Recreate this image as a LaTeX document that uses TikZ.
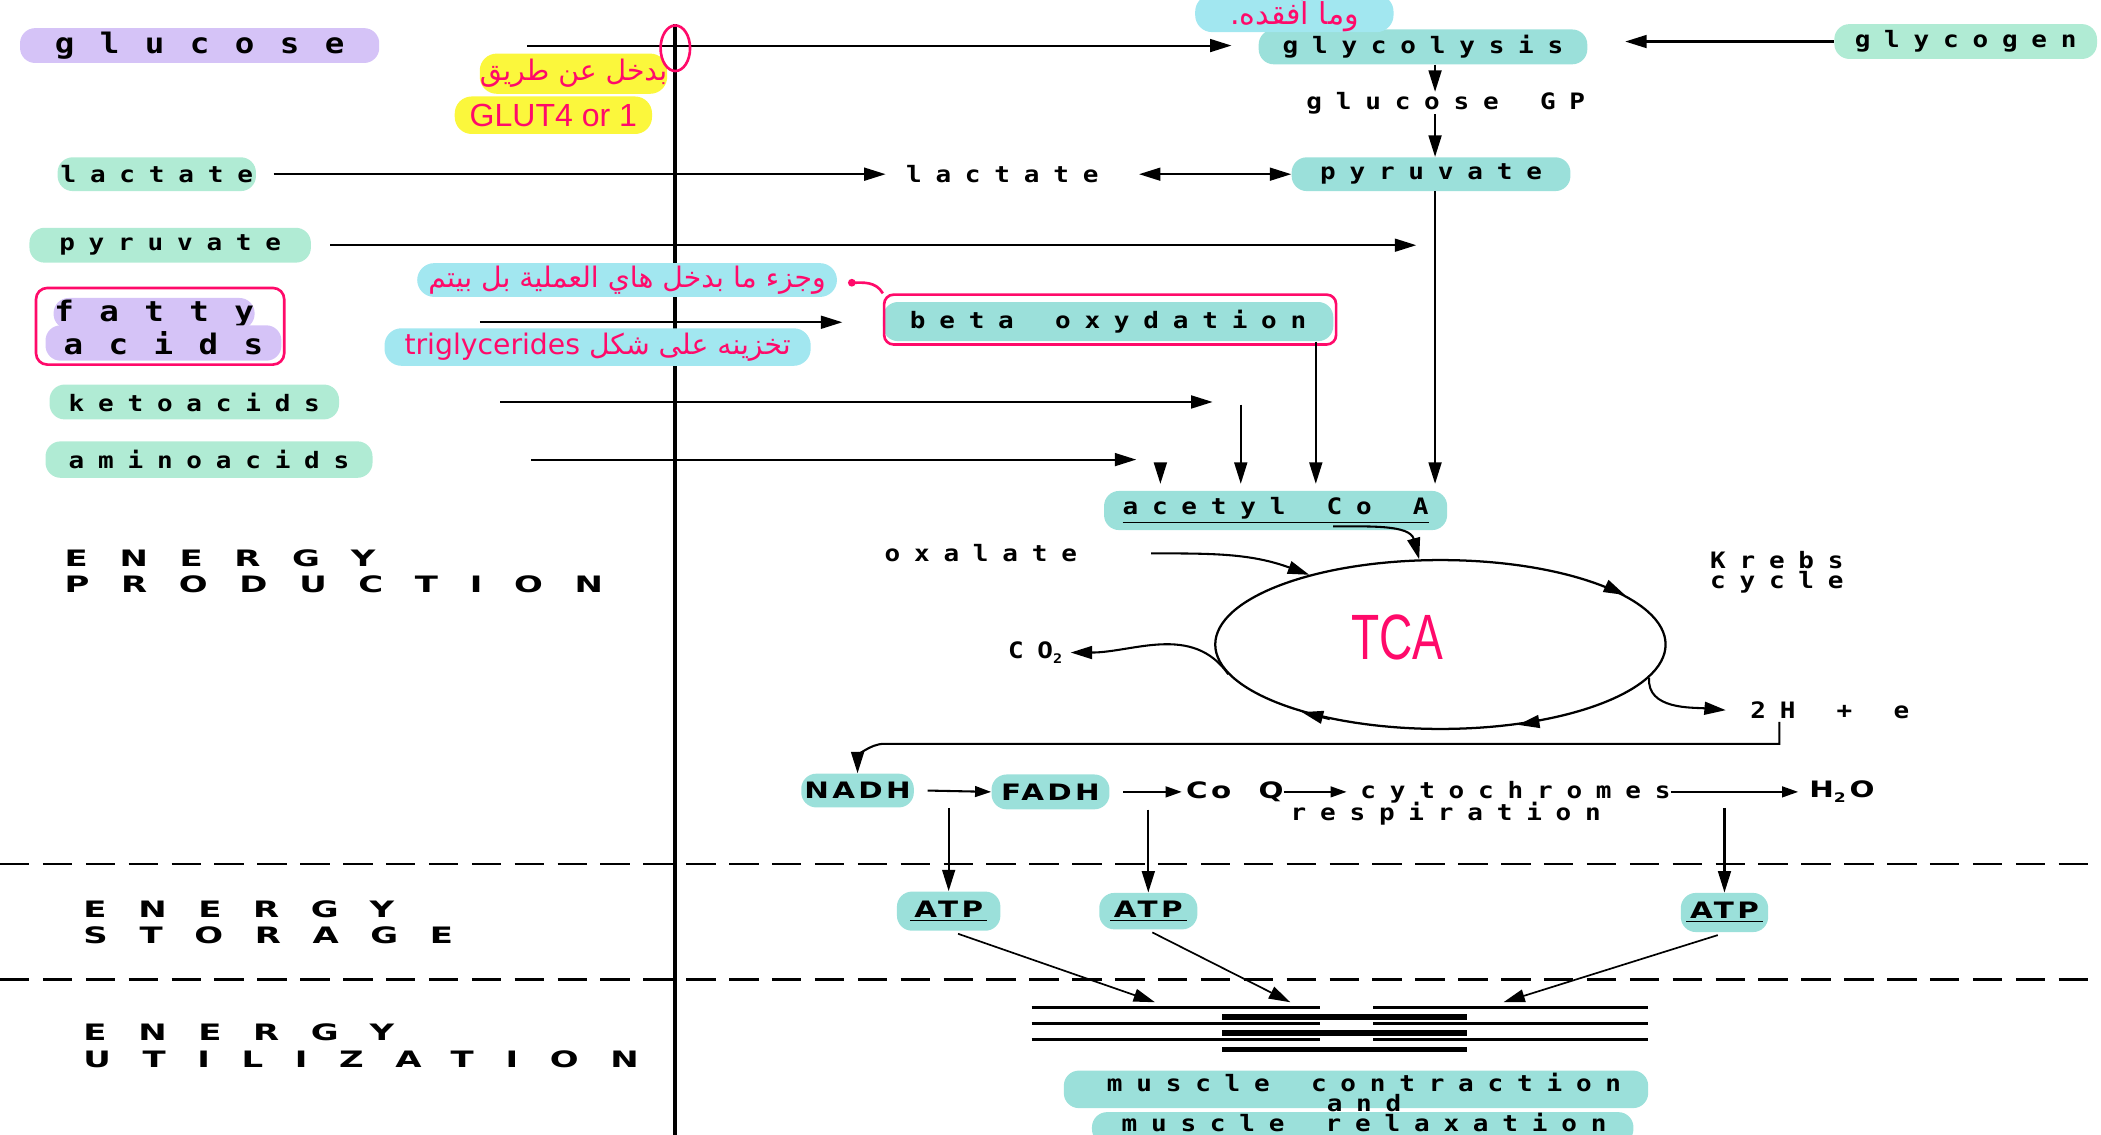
\documentclass[tikz,border=0pt]{standalone}
\usepackage{fontspec}
\setmainfont{Liberation Sans}
\newfontfamily\spacedfont{DejaVu Sans Mono}[UprightFont={* Bold}, FakeStretch=1.15, LetterSpace=61, WordSpace=1.4]
\newfontfamily\widefont{DejaVu Sans Mono}[UprightFont={* Bold}, FakeStretch=1.15, LetterSpace=90]
\newfontfamily\capsfont{DejaVu Sans}[UprightFont={* Bold}, FakeStretch=1.5, LetterSpace=140]
\newfontfamily\medfont{DejaVu Sans}[UprightFont={* Bold}, FakeStretch=1.3, LetterSpace=15, WordSpace=2]
\newfontfamily\arabicfont[Script=Arabic]{DejaVu Sans}
\TeXXeTstate=1
\usetikzlibrary{arrows.meta, positioning, calc, shapes.geometric}

\definecolor{lavenderhl}{RGB}{213,195,247}
\definecolor{minthl}{RGB}{176,235,212}
\definecolor{tealhl}{RGB}{155,224,218}
\definecolor{cyanhl}{RGB}{162,231,240}
\definecolor{yellowhl}{RGB}{251,247,60}
\definecolor{penpink}{RGB}{255,10,106}

\begin{document}
\begin{tikzpicture}[x=0.025cm, y=0.025cm,
    lbl/.style={font=\spacedfont\fontsize{12}{13}\selectfont, inner sep=0pt},
    biglbl/.style={font=\widefont\fontsize{15}{16}\selectfont, inner sep=0pt},
    chem/.style={font=\medfont\fontsize{12}{13}\selectfont, inner sep=0pt},
    head/.style={font=\capsfont\fontsize{12}{14}\selectfont, align=left, anchor=north west, inner sep=0pt},
    pill/.style={rounded corners=8pt, inner sep=0pt},
    lavpill/.style={pill, fill=lavenderhl},
    mintpill/.style={pill, fill=minthl},
    tealpill/.style={pill, fill=tealhl},
    note/.style={pill, rounded corners=9pt, text=penpink, font=\arabicfont\fontsize{15}{17}\selectfont},
    pen/.style={draw=penpink, line width=1.4pt},
    arr/.style={-{Triangle[length=4mm, width=2.4mm]}, line width=1.1pt},
    arrsm/.style={-{Triangle[length=3mm, width=2mm]}, line width=1.1pt},
    dbl/.style={{Triangle[length=4mm, width=2.4mm]}-{Triangle[length=4mm, width=2.4mm]}, line width=1.1pt},
    divider/.style={line width=1.1pt, dash pattern=on 5.5mm off 2.5mm},
]
\useasboundingbox (0,0) rectangle (1568,-847);

% section headings
\node[head] (prod) at (48,-410) {ENERGY\\PRODUCTION};
\node[head] (stor) at (62,-672) {ENERGY\\STORAGE};
\node[head] (util) at (62,-764) {ENERGY\\UTILIZATION};
\draw[divider] (0,-645) -- (1568,-645);
\draw[divider] (0,-731) -- (1568,-731);

% membrane
\coordinate (axtop) at (504,-18);
\coordinate (axbot) at (504,-850);
\draw[line width=2pt] (axtop) -- (axbot);

% substrates outside the cell
\node[lavpill, biglbl, minimum width=6.7cm, minimum height=0.65cm] (glucose) at (149,-34) {glucose};
\node[mintpill, lbl, minimum width=3.7cm, minimum height=0.63cm] (lactL) at (117,-130) {lactate};
\node[mintpill, lbl, minimum width=5.25cm, minimum height=0.65cm] (pyruvL) at (127,-183) {pyruvate};
\node[lavpill, biglbl, minimum width=3.75cm, minimum height=0.58cm] (fatty) at (115,-234) {fatty};
\node[lavpill, biglbl, minimum width=4.4cm, minimum height=0.66cm] (acids) at (122,-256) {acids};
\node[pen, rounded corners=6pt, minimum width=4.63cm, minimum height=1.43cm] (fabox) at (119.5,-243.5) {};
\node[mintpill, lbl, minimum width=5.4cm, minimum height=0.65cm] (keto) at (145,-300) {ketoacids};
\node[mintpill, lbl, minimum width=6.1cm, minimum height=0.68cm] (amino) at (156,-343) {aminoacids};

% glycolysis column
\node[tealpill, lbl, minimum width=6.13cm, minimum height=0.65cm] (glycolysis) at (1062,-35) {glycolysis};
\node[mintpill, lbl, minimum width=4.9cm, minimum height=0.65cm] (glycogen) at (1467,-31) {glycogen};
\node[lbl] (gluGP) at (1079,-77) {glucose GP};
\node[lbl] (lactM) at (748,-130) {lactate};
\node[tealpill, lbl, minimum width=5.2cm, minimum height=0.63cm] (pyruvR) at (1068,-130) {pyruvate};
\node[tealpill, lbl, minimum width=8.4cm, minimum height=0.73cm] (beta) at (827,-240) {beta oxydation};
\node[pen, rounded corners=5pt, minimum width=8.43cm, minimum height=0.93cm] (betabox) at (828.5,-238.5) {};
\node[tealpill, lbl, minimum width=6.4cm, minimum height=0.73cm] (acetyl) at (952,-381) {\underline{acetyl Co A}};

\coordinate (vx) at (1071,0);
\coordinate (bx) at (982,0);
\coordinate (kx) at (926,0);
\coordinate (ax) at (866,0);

\draw[arr] ($(glucose.east)+(110,0)$) -- ($(glucose.east -| glycolysis.west)+(-20,0)$);
\draw[arr] (glycogen.west) -- ($(glycogen.west -| glycolysis.east)+(28,0)$);
\draw[arr] (glycolysis.south -| vx) -- (gluGP.north -| vx);
\draw[arr] (gluGP.south -| vx) -- (pyruvR.north -| vx);
\draw[arr] (pyruvR.south -| vx) -- ($(acetyl.north -| vx)+(0,5)$);
\draw[arr] ($(lactL.east)+(13,0)$) -- ($(lactM.west)+(-15,0)$);
\draw[dbl] ($(lactM.east)+(30,0)$) -- (pyruvR.west);
\draw[arr] ($(pyruvL.east)+(14,0)$) -- ($(pyruvL.east -| vx)+(-14,0)$);
\draw[arr] ($(fabox.east)+(145,3)$) -- ($(fabox.east -| beta.west)+(-30,3)$);
\draw[arr] (beta.south -| bx) -- ($(acetyl.north -| bx)+(0,5)$);
\draw[arr] ($(keto.east)+(120,0)$) -- ($(keto.east -| kx)+(-21,0)$);
\draw[arr] ($(keto.east -| kx)+(0,-2)$) -- ($(acetyl.north -| kx)+(0,5)$);
\draw[arr] ($(amino.east)+(118,0)$) -- ($(amino.east -| ax)+(-18,0)$);
\draw[arr] ($(amino.east -| ax)+(0,-3)$) -- ($(acetyl.north -| ax)+(0,5)$);

% Krebs cycle
\node[draw, ellipse, line width=1.2pt, minimum width=8.4cm, minimum height=3.15cm, inner sep=0pt] (tca) at (1075,-481) {};
\node[text=penpink, font=\fontsize{34}{34}\selectfont, inner sep=0pt] (tcalbl) at (1043,-476) {\scalebox{0.72}[1]{TCA}};
\node[lbl] (oxal) at (732,-413) {oxalate};
\node[lbl, align=left, anchor=north west, font=\spacedfont\fontsize{12}{11}\selectfont] (krebs) at (1276,-411) {Krebs\\cycle};
\node[lbl, anchor=west] (co2) at (752,-487) {CO\raisebox{-0.4ex}{\fontsize{7}{7}\selectfont 2}};
\node[lbl, anchor=west] (twoH) at (1306,-530) {2H + e};

\draw[arr] ($(acetyl.south)+(43,3)$) to[out=0, in=105] (tca.104);
\draw[arr] ($(oxal.east)+(55,0)$) to[out=0, in=160] (tca.152);
\draw[arr] (tca.188) to[out=125, in=0] ($(co2.east)+(6,0)$);
\draw[arr] (tca.-9) to[out=-95, in=175] ($(twoH.west)+(-18,0)$);
\draw[arr] (tca.19) -- (tca.15);
\draw[arr] (tca.-38) -- (tca.-46);
\draw[arr] (tca.-146) -- (tca.-154);

% respiratory chain
\node[tealpill, chem, minimum width=2.1cm, minimum height=0.63cm] (nadh) at (640,-590) {NADH};
\node[tealpill, chem, minimum width=2.2cm, minimum height=0.65cm] (fadh) at (784,-591) {FADH};
\node[chem, anchor=west] (coq) at (885,-591) {Co Q};
\node[lbl, anchor=west] (cyto) at (1015,-591) {cytochromes};
\node[chem, anchor=west] (water) at (1350,-591) {H\raisebox{-0.4ex}{\fontsize{7}{7}\selectfont 2}\,O};
\node[lbl, anchor=west] (resp) at (963,-607) {respiration};

\draw[arr] ($(twoH.south west)+(22,-2)$) |- ($(nadh.north)+(20,22)$) to[out=180, in=90] (nadh.north);
\draw[arrsm] ($(nadh.east)+(10,0)$) -- (fadh.west);
\draw[arrsm] ($(fadh.east)+(10,0)$) -- ($(coq.west)+(-3,0)$);
\draw[arrsm] (coq.east) -- ($(cyto.west)+(-10,0)$);
\draw[arrsm] (cyto.east) -- ($(water.west)+(-8,0)$);

% ATP
\node[tealpill, chem, minimum width=1.93cm, minimum height=0.73cm] (atp1) at (708,-680) {\underline{\,ATP\,}};
\node[tealpill, chem, minimum width=1.83cm, minimum height=0.68cm] (atp2) at (857,-680) {\underline{\,ATP\,}};
\node[tealpill, chem, minimum width=1.63cm, minimum height=0.73cm] (atp3) at (1287,-681) {\underline{\,ATP\,}};
\draw[arr] (atp1.north |- nadh.south) -- (atp1.north);
\draw[arr] (atp2.north |- fadh.south) -- (atp2.north);
\draw[arr] (atp3.north |- nadh.south) -- (atp3.north);

% myofilaments
\foreach \y in {752,764,776} {
    \draw[line width=1.4pt] (770,-\y) -- (985,-\y);
    \draw[line width=1.4pt] (1025,-\y) -- (1230,-\y);
}
\foreach \y in {759,771,783}
    \draw[line width=2.8pt] (912,-\y) -- (1095,-\y);
\coordinate (myo1) at (862,-748);
\coordinate (myo2) at (963,-748);
\coordinate (myo3) at (1122,-748);
\draw[arr, line width=0.9pt] ($(atp1.south)+(7,-2)$) -- (myo1);
\draw[arr, line width=0.9pt] ($(atp2.south)+(3,-2)$) -- (myo2);
\draw[arr, line width=0.9pt] ($(atp3.south)+(-5,-2)$) -- (myo3);

\node[tealpill, minimum width=10.9cm, minimum height=0.7cm] (musC) at (1012,-813) {};
\node[tealpill, minimum width=10.1cm, minimum height=0.6cm] (musR) at (1017,-842) {};
\node[lbl, align=center, font=\spacedfont\fontsize{12}{9.2}\selectfont] (mustxt) at (1018,-823) {muscle contraction\\and\\muscle relaxation};

% handwritten notes
\node[note, fill=cyanhl, minimum width=3.7cm, minimum height=0.65cm, font=\arabicfont\fontsize{16}{18}\selectfont] (lostnote) at (966,-10) {\beginR وما أفقده.\endR};
\node[note, fill=yellowhl, minimum width=3.33cm, minimum height=0.75cm] (entry) at (428,-55) {\beginR بدخل عن طريق\endR};
\node[note, fill=yellowhl, minimum width=3.68cm, minimum height=0.7cm, font=\fontsize{17}{19}\selectfont] (glut) at (413,-86) {GLUT4 or 1};
\node[note, fill=cyanhl, minimum width=7.83cm, minimum height=0.63cm] (partnote) at (468,-209) {\beginR وجزء ما بدخل هاي العملية بل بيتم\endR};
\node[note, fill=cyanhl, minimum width=7.95cm, minimum height=0.7cm] (storenote) at (446,-259) {\beginR تخزينه على شكل \beginL triglycerides\endL\endR};
\node[pen, ellipse, minimum width=0.55cm, minimum height=0.85cm, inner sep=0pt] (ring) at (504,-36) {};
\draw[pen, -{Circle[length=4pt]}] (betabox.north west) to[out=120, in=0] ($(partnote.east)+(8,-2)$);
\end{tikzpicture}
\end{document}
